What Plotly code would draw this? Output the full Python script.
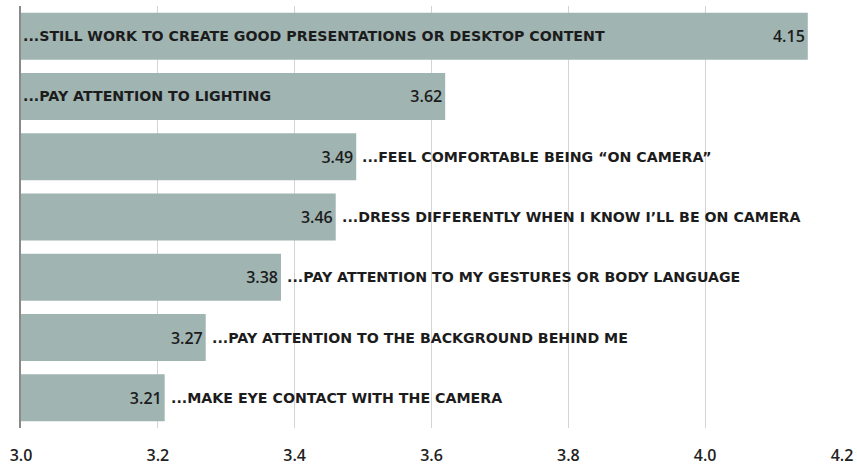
import plotly.graph_objects as go

statements = [
    "...STILL WORK TO CREATE GOOD PRESENTATIONS OR DESKTOP CONTENT",
    "...PAY ATTENTION TO LIGHTING",
    "...FEEL COMFORTABLE BEING “ON CAMERA”",
    "...DRESS DIFFERENTLY WHEN I KNOW I’LL BE ON CAMERA",
    "...PAY ATTENTION TO MY GESTURES OR BODY LANGUAGE",
    "...PAY ATTENTION TO THE BACKGROUND BEHIND ME",
    "...MAKE EYE CONTACT WITH THE CAMERA",
]
scores = [4.15, 3.62, 3.49, 3.46, 3.38, 3.27, 3.21]
tick_values = [3.0, 3.2, 3.4, 3.6, 3.8, 4.0, 4.2]
tick_labels = ["3.0", "3.2", "3.4", "3.6", "3.8", "4.0", "4.2"]
axis_min, axis_max = 3.0, 4.2
inside_threshold = 3.55

BAR = "#a0b4b2"
TEXT = "#1c1c1c"
LABEL_FONT = dict(family="DejaVu Sans", size=14.2, color=TEXT, weight=700)

fig = go.Figure()
fig.add_trace(go.Bar(
    x=scores, y=statements, orientation="h",
    marker=dict(color=BAR, line=dict(width=0)),
    text=[f"{v:.2f}" for v in scores],
    textposition="inside", insidetextanchor="end", textangle=0,
    insidetextfont=dict(family="Open Sans", size=16, color=TEXT, weight=600),
    cliponaxis=True,
    hoverinfo="skip",
))

annotations = []
for s, v in zip(statements, scores):
    if v > inside_threshold:
        annotations.append(dict(x=axis_min, y=s, xref="x", yref="y", text=s,
                                showarrow=False, xanchor="left", xshift=0,
                                font=LABEL_FONT))
    else:
        annotations.append(dict(x=v, y=s, xref="x", yref="y", text=s,
                                showarrow=False, xanchor="left", xshift=4,
                                font=LABEL_FONT))

fig.update_layout(
    width=857, height=468,
    margin=dict(l=21, r=15, t=6, b=40),
    paper_bgcolor="white", plot_bgcolor="white",
    bargap=0.22,
    showlegend=False,
    hovermode=False,
    annotations=annotations,
    xaxis=dict(range=[axis_min, axis_max], tickvals=tick_values, ticktext=tick_labels,
               showgrid=True, gridcolor="#d4d4d4", gridwidth=1, zeroline=False,
               showline=False, ticks="", automargin=False, ticklabelstandoff=16,
               tickfont=dict(family="Open Sans", size=16, color="#222222", weight=600)),
    yaxis=dict(autorange="reversed", showticklabels=False, showgrid=False, automargin=False,
               showline=True, linecolor="#8a8a8a", linewidth=1.5, ticks="", zeroline=False),
)

fig.write_html("out.html", config={"displayModeBar": False},
               post_script="document.body.style.margin='0';")
